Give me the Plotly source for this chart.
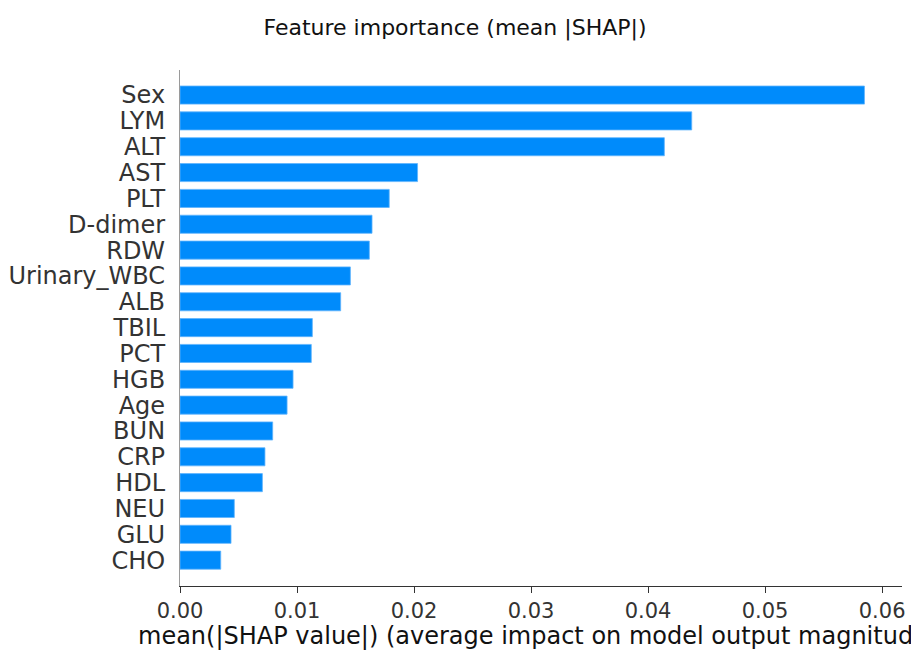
import plotly.graph_objects as go

features = ["CHO", "GLU", "NEU", "HDL", "CRP", "BUN", "Age", "HGB", "PCT", "TBIL",
            "ALB", "Urinary_WBC", "RDW", "D-dimer", "PLT", "AST", "ALT", "LYM", "Sex"]
mean_abs_shap = [0.00348, 0.00436, 0.00464, 0.00704, 0.00726, 0.00792, 0.00915, 0.00966,
                 0.01122, 0.01131, 0.01373, 0.01456, 0.01618, 0.01641, 0.01788, 0.0203,
                 0.04139, 0.04373, 0.05849]
x_ticks = [0.0, 0.01, 0.02, 0.03, 0.04, 0.05, 0.06]
x_tick_labels = ["0.00", "0.01", "0.02", "0.03", "0.04", "0.05", "0.06"]
x_title = "mean(|SHAP value|) (average impact on model output magnitude)"

FONT = "DejaVu Sans"

fig = go.Figure(go.Bar(
    x=mean_abs_shap,
    y=features,
    orientation="h",
    width=0.7,
    marker=dict(color="#008bfb", line=dict(color="#5fb4fd", width=0.8)),
))

# page body has an 8px default margin, so the figure is drawn offset by (8, 8)
fig.update_layout(
    width=919, height=650,
    margin=dict(l=172, r=25, t=62, b=72),
    paper_bgcolor="white", plot_bgcolor="white",
    showlegend=False,
    font=dict(family=FONT, color="#333333"),
    title=dict(text="Feature importance (mean |SHAP|)", x=447/919, xanchor="center",
               yref="container", y=1 - 19/650, yanchor="middle",
               font=dict(family=FONT, size=22, color="#111111")),
    annotations=[dict(text=x_title, xref="paper", yref="paper", x=0.4945, y=-0.097,
                      xanchor="center", yanchor="middle", showarrow=False,
                      font=dict(family=FONT, size=24, color="#111111"))],
)
fig.update_xaxes(
    range=[0, 0.0617], tickmode="array", tickvals=x_ticks, ticktext=x_tick_labels,
    showgrid=False, zeroline=False, automargin=False,
    showline=True, linecolor="#333333", linewidth=1.3,
    ticks="outside", ticklen=6, tickwidth=1.2, tickcolor="#333333",
    tickfont=dict(family=FONT, size=21, color="#333333"),
)
fig.update_yaxes(
    type="category", categoryorder="array", categoryarray=features,
    tickmode="array", tickvals=features, ticktext=features,
    range=[-1.0, 18.97],
    showgrid=False, zeroline=False, automargin=False,
    showline=True, linecolor="#9a9a9a", linewidth=1.2,
    ticks="", ticklabelstandoff=9,
    tickfont=dict(family=FONT, size=24, color="#333333"),
)

fig.write_html("out.html")
